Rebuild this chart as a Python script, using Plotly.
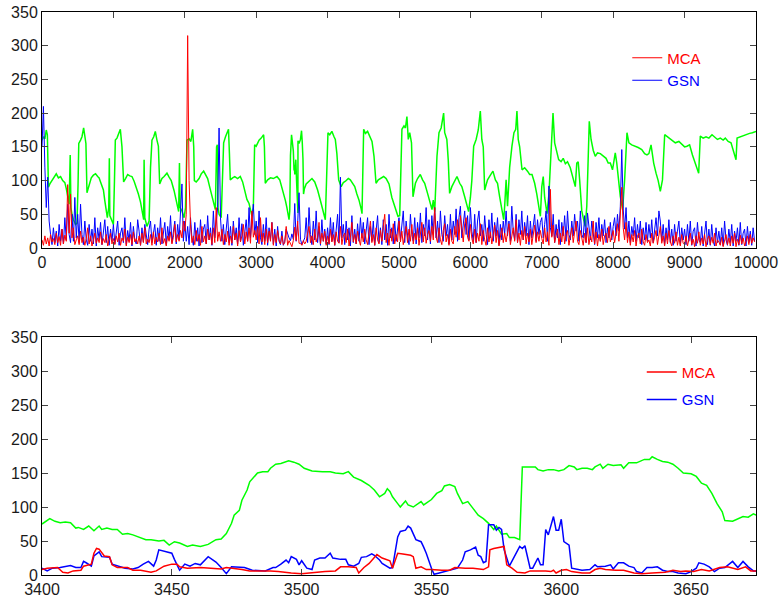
import plotly.graph_objects as go
from plotly.subplots import make_subplots

# ---------------- Top panel data (sample index 0..10000) ----------------
green_top_x = [0,20,40,60,75,90,110,140,170,200,230,260,290,320,340,360,380,395,405,420,440,470,490,505,515,540,560,583,600,615,630,660,690,720,750,780,800,830,860,880,900,915,935,943,950,975,1000,1015,1027,1050,1075,1097,1120,1143,1170,1200,1230,1260,1290,1320,1350,1380,1410,1424,1430,1440,1470,1500,1520,1540,1565,1587,1610,1630,1648,1680,1710,1750,1780,1810,1850,1880,1914,1925,1935,1960,1990,2010,2031,2060,2085,2110,2125,2134,2160,2200,2230,2264,2290,2320,2350,2380,2410,2428,2445,2455,2465,2480,2510,2530,2544,2570,2590,2612,2625,2637,2670,2700,2740,2777,2810,2840,2870,2900,2941,2960,2978,3000,3040,3070,3104,3115,3127,3160,3200,3240,3291,3330,3360,3385,3410,3430,3440,3460,3470,3480,3495,3510,3520,3530,3535,3540,3555,3565,3575,3584,3585,3600,3620,3635,3645,3655,3663,3675,3700,3740,3781,3820,3860,3900,3940,3968,3985,4005,4030,4060,4090,4108,4130,4155,4190,4220,4250,4290,4318,4350,4380,4410,4440,4470,4482,4505,4530,4560,4590,4622,4650,4678,4710,4750,4785,4820,4860,4900,4930,4960,4985,5010,5041,5070,5090,5111,5130,5150,5175,5196,5230,5260,5298,5330,5360,5400,5430,5462,5480,5500,5532,5560,5590,5625,5640,5670,5690,5709,5740,5770,5812,5850,5880,5920,5950,5975,6000,6020,6046,6080,6110,6139,6160,6180,6200,6240,6280,6316,6350,6380,6410,6440,6466,6480,6500,6520,6550,6582,6610,6635,6652,6670,6690,6723,6760,6800,6830,6863,6900,6930,6956,6980,7000,7020,7040,7073,7100,7125,7157,7180,7210,7236,7270,7300,7330,7360,7399,7430,7469,7490,7510,7530,7560,7586,7609,7630,7665,7690,7720,7749,7780,7820,7860,7900,7930,7960,7990,8029,8050,8075,8100,8132,8160,8193,8220,8260,8310,8350,8400,8440,8473,8500,8530,8567,8600,8630,8660,8690,8721,8760,8800,8840,8870,8920,8960,9000,9033,9070,9110,9150,9173,9197,9220,9260,9300,9340,9384,9420,9460,9500,9540,9570,9610,9650,9680,9720,9735,9780,9820,9874,9910,9950,10000]
green_top_y = [160,165,162,175,168,90,95,100,103,110,104,106,100,97,88,78,65,138,60,50,42,35,37,95,155,160,165,178,160,155,82,95,104,108,110,106,104,95,86,70,55,45,60,133,48,40,35,100,160,163,170,176,150,98,103,109,107,106,99,90,80,68,52,42,131,45,32,40,120,160,165,173,160,151,95,103,106,111,105,100,85,70,54,126,60,55,45,60,160,162,158,176,150,100,98,103,110,114,108,103,90,76,62,57,150,153,60,50,45,100,156,165,171,176,140,101,104,106,103,106,98,86,72,66,47,60,153,151,160,163,168,150,96,101,104,103,106,101,90,81,70,60,52,42,55,137,168,152,144,115,123,109,131,100,70,52,159,155,161,174,157,132,80,88,95,99,103,98,86,70,55,42,100,171,168,173,165,161,140,101,91,97,99,103,101,95,91,80,71,58,51,176,170,173,165,158,136,96,101,104,106,103,95,75,66,55,47,48,176,181,178,195,161,171,156,76,96,103,109,101,96,81,70,57,71,54,136,171,178,200,171,161,130,81,91,98,106,96,91,76,65,54,75,100,151,161,175,203,161,150,86,101,108,114,101,96,76,58,42,62,101,62,120,151,171,176,203,161,150,116,119,114,109,109,96,80,62,47,91,106,75,51,80,131,200,156,140,131,128,133,125,128,119,105,91,126,128,101,55,42,32,62,188,161,145,136,141,140,136,133,126,126,116,141,126,100,76,57,101,171,156,153,151,149,146,140,138,140,153,126,111,100,84,101,168,165,161,158,156,158,154,150,151,153,138,125,121,111,166,163,165,163,168,164,161,163,160,163,158,156,146,131,163,165,166,168,170,171,173]

mca_top = [12,4,18,6,15,3,20,9,14,5,22,8,17,4,28,6,19,10,94,22,80,15,30,5,12,
           18,5,25,8,16,4,14,30,6,18,3,12,22,7,15,8,24,5,14,8,20,3,11,22,6,
           14,5,18,9,22,4,15,10,28,3,16,8,20,5,24,9,14,6,18,4,22,8,30,6,13,
           8,20,4,24,6,16,9,22,5,30,7,14,3,18,10,24,6,16,35,9,20,10,26,15,40,
           25,50,315,100,35,8,18,5,26,10,20,4,32,9,18,6,28,12,22,5,30,8,60,10,24,
           10,28,5,20,9,25,4,18,7,32,12,22,3,26,9,18,35,6,24,10,30,7,55,16,26,
           12,32,6,45,9,22,5,28,8,25,10,38,4,20,8,26,12,6,18,5,8,32,4,11,6,
           2,11,31,11,40,7,7,4,11,6,10,22,32,8,18,5,28,9,16,38,6,22,10,25,4,
           18,6,28,9,20,4,24,10,7,32,5,18,22,8,28,3,16,38,9,20,6,25,12,4,22,
           9,28,12,5,24,40,8,20,4,30,12,6,26,10,32,50,8,22,4,28,10,36,6,20,9,
           40,9,25,5,20,32,8,28,10,35,6,22,12,30,4,24,38,9,30,7,20,26,10,32,12,
           60,16,8,30,12,5,26,36,9,20,4,28,10,6,32,16,42,12,48,26,9,36,45,16,10,
           35,14,6,28,8,22,10,36,5,26,12,4,30,9,24,6,20,34,8,26,3,18,30,8,22,
           9,26,36,5,20,30,10,42,8,22,4,26,12,32,6,22,9,28,5,18,34,8,24,10,26,
           14,6,30,9,24,4,87,16,34,8,18,28,5,22,9,32,6,20,26,4,18,30,8,22,40,
           10,5,26,14,4,22,8,30,5,18,9,40,6,24,3,20,10,28,5,18,22,8,32,9,20,
           26,8,22,36,10,48,90,30,12,38,8,24,4,20,9,26,3,18,22,6,28,9,4,20,8,
           12,3,22,7,16,26,5,20,32,7,18,3,22,6,26,9,3,18,7,24,4,16,3,20,7,
           5,18,3,14,22,5,13,2,18,7,24,4,15,6,20,2,13,18,5,16,7,22,3,12,9,
           4,16,2,13,20,5,15,3,18,7,22,2,13,5,19,6,15,3,12,18,5,20,7,15,9]

gsn_top = [150,210,120,60,105,40,20,5,30,8,25,3,35,10,28,6,45,12,65,20,8,50,10,75,15,
           50,8,65,20,5,40,12,4,35,10,28,6,45,3,30,12,38,5,25,42,8,32,4,28,10,
           35,6,28,40,4,22,30,8,45,5,26,10,38,3,32,12,6,42,25,4,30,9,35,15,5,
           28,40,8,22,35,4,30,10,45,6,26,38,5,32,12,48,8,28,40,6,35,12,50,95,10,
           40,10,32,5,45,15,4,38,10,30,3,42,8,28,35,6,48,12,30,4,55,15,40,60,178,
           45,10,35,5,28,50,8,32,4,40,12,30,6,45,10,36,4,28,42,10,60,15,38,65,20,
           40,8,55,15,5,35,10,45,4,30,12,38,6,28,3,32,10,5,25,4,10,28,20,15,11,
           21,13,66,10,35,82,13,5,10,15,45,8,60,20,5,40,12,55,8,32,4,42,10,28,6,
           30,5,45,10,38,4,28,50,8,105,15,35,5,40,12,30,3,48,8,28,6,36,10,45,15,
           38,6,28,45,5,32,10,40,4,26,48,8,30,5,42,12,35,4,50,15,30,6,40,10,28,
           45,12,35,55,8,40,18,5,50,20,10,45,6,38,15,52,8,35,18,60,12,42,6,48,20,
           60,15,40,8,55,20,10,48,18,35,6,50,12,40,20,58,10,45,62,15,38,55,20,48,12,
           60,25,10,50,8,40,55,18,35,10,48,20,5,42,15,52,10,38,18,45,5,35,12,40,20,
           55,18,40,10,62,25,12,50,8,42,20,55,12,38,18,48,5,40,15,35,50,10,42,20,38,
           45,15,35,55,10,92,30,18,50,8,35,15,42,5,38,18,48,10,55,20,12,40,18,50,25,
           40,10,55,20,15,48,8,52,25,12,40,18,5,38,15,45,10,35,18,42,8,30,15,38,12,
           32,45,18,50,25,62,146,58,28,60,15,40,8,32,18,45,10,35,15,40,5,30,12,38,10,
           35,15,42,8,30,45,18,55,40,10,35,5,30,12,42,8,28,4,35,10,25,40,5,30,12,
           28,5,35,10,40,4,25,30,3,38,12,8,32,3,26,40,5,28,4,35,10,3,30,8,25,
           5,30,3,40,12,4,28,8,35,3,25,10,30,4,38,5,22,28,3,32,8,25,4,30,10]
top_step = 20
mca_top_x = list(range(0, top_step * len(mca_top), top_step))
gsn_top_x = list(range(0, top_step * len(gsn_top), top_step))

# ---------------- Bottom panel data (zoom 3400..3675) ----------------
green_bot_x = [3400,3402,3403,3405,3407,3409,3411,3413,3414,3416,3418,3420,3422,3423,3425,3427,3429,3431,3433,3435,3438,3440,3442,3445,3447,3449,3451,3453,3456,3458,3461,3464,3467,3468,3469,3471,3473,3474,3476,3477,3479,3480,3482,3483,3485,3487,3488,3490,3492,3495,3497,3499,3501,3504,3508,3511,3513,3516,3518,3520,3523,3525,3526,3528,3530,3532,3533,3534,3535,3537,3538,3540,3541,3543,3546,3547,3550,3552,3554,3555,3557,3559,3560,3562,3564,3566,3568,3570,3572,3574,3575,3577,3579,3580,3582,3584,3585,3587,3590,3591,3593,3595,3597,3599,3601,3603,3605,3606,3608,3610,3612,3613,3615,3616,3618,3620,3623,3624,3626,3629,3631,3632,3634,3635,3637,3639,3641,3643,3645,3647,3650,3652,3654,3656,3658,3660,3662,3663,3666,3668,3670,3672,3674,3675]
green_bot_y = [75,80,83,79,77,78,77,69,70,67,72,65,72,67,69,67,67,60,61,59,55,52,52,50,51,44,49,47,42,44,42,45,52,53,53,61,76,88,95,110,125,137,145,150,152,152,157,163,164,168,166,163,157,153,152,152,150,149,152,144,139,134,132,125,115,120,127,123,115,105,100,109,103,100,108,103,111,120,124,131,133,130,120,105,108,98,88,83,76,67,72,60,61,55,55,52,159,159,159,155,153,155,155,153,155,161,159,155,157,157,155,159,163,157,163,161,162,157,165,165,168,170,170,174,170,167,166,163,157,150,149,145,135,132,120,105,93,80,79,83,86,85,90,88]

mca_bot_x = [3400,3402,3406,3408,3410,3412,3415,3416,3419,3420,3421,3422,3424,3426,3427,3429,3433,3435,3438,3442,3444,3447,3450,3452,3453,3456,3461,3466,3469,3471,3474,3477,3480,3484,3486,3488,3491,3493,3496,3500,3505,3509,3513,3515,3518,3521,3522,3524,3526,3528,3529,3531,3534,3535,3537,3539,3542,3543,3544,3546,3548,3550,3552,3554,3557,3559,3563,3566,3570,3572,3572.5,3574,3578,3579,3581,3583,3586,3588,3594,3596,3597,3598,3600,3602,3604,3608,3611,3613,3615,3617,3621,3624,3628,3631,3635,3640,3642,3643,3646,3648,3651,3654,3657,3659,3661,3664,3666,3668,3671,3673,3675]
mca_bot_y = [8,10,11,4,3,6,7,13,16,32,39,38,28,27,15,11,11,7,7,4,6,13,16,16,12,10,11,10,9,11,10,8,6,6,7,6,5,4,3,2,4,5,6,12,12,11,3,11,17,25,30,25,21,10,32,31,29,27,10,12,8,8,7,7,7,11,10,10,8,12,37,39,42,15,10,4,3,6,6,5,7,3,7,8,5,3,3,8,10,8,7,7,3,2,3,4,6,7,5,6,5,8,6,8,11,12,10,8,12,6,6]

gsn_bot_x = [3400,3402,3404,3407,3411,3413,3415,3416,3417,3419,3420,3422,3423,3426,3427,3430,3432,3435,3437,3439,3441,3443,3444,3445,3447,3450,3451,3453,3455,3457,3459,3461,3464,3466,3467,3469,3471,3473,3476,3478,3481,3484,3486,3489,3490,3492,3494,3495,3496,3498,3499,3500,3502,3504,3505,3507,3509,3511,3512,3515,3517,3518,3520,3522,3523,3525,3527,3528,3530,3531,3533,3534,3535,3537,3538,3540,3541,3542,3544,3546,3547,3548,3550,3551,3553,3555,3557,3559,3560,3562,3563,3565,3567,3568,3569,3570,3571,3572,3574,3575,3576,3577,3578,3580,3582,3584,3585,3586,3588,3589,3591,3592,3593,3594,3595,3597,3598,3599,3600,3601,3603,3604,3608,3611,3613,3614,3617,3619,3620,3622,3624,3626,3628,3629,3631,3633,3635,3637,3639,3641,3643,3645,3648,3650,3652,3653,3655,3657,3659,3661,3663,3666,3668,3670,3672,3674,3675]
gsn_bot_y = [10,6,10,11,14,11,11,20,18,13,28,34,27,26,16,12,10,9,11,16,20,13,22,37,35,32,23,7,16,13,17,15,27,22,19,11,2,12,12,11,7,6,6,11,11,16,22,18,27,23,15,21,10,8,22,25,25,32,25,23,23,15,13,17,26,27,31,29,22,17,13,10,11,56,64,66,72,69,52,49,41,32,10,1,3,5,7,10,10,22,34,37,41,29,27,18,20,74,74,66,70,67,37,13,27,42,39,43,10,10,25,15,15,67,59,86,66,66,82,49,44,10,7,8,15,12,13,15,9,18,18,13,11,5,3,11,11,12,7,5,5,3,2,5,10,18,16,12,5,10,11,20,11,20,12,6,6]

top_xticks = [0,1000,2000,3000,4000,5000,6000,7000,8000,9000,10000]
bot_xticks = [3400,3450,3500,3550,3600,3650]
yticks = [0,50,100,150,200,250,300,350]

# ---------------- Figure ----------------
GREEN = "#00ff00"
RED = "#ff0000"
BLUE = "#0000ff"
FONT = "Liberation Sans, Arial, Helvetica, sans-serif"

fig = make_subplots(rows=2, cols=1, vertical_spacing=0.158)

fig.add_trace(go.Scatter(x=green_top_x, y=green_top_y, mode="lines",
                         line=dict(color=GREEN, width=1.5), showlegend=False,
                         name="green"), row=1, col=1)
fig.add_trace(go.Scatter(x=gsn_top_x, y=gsn_top, mode="lines",
                         line=dict(color=BLUE, width=1.0),
                         name="<span style='color:#0000ff'>GSN</span>",
                         legend="legend", legendgroup="g1", legendrank=2), row=1, col=1)
fig.add_trace(go.Scatter(x=mca_top_x, y=mca_top, mode="lines",
                         line=dict(color=RED, width=1.0),
                         name="<span style='color:#ff0000'>MCA</span>",
                         legend="legend", legendgroup="m1", legendrank=1), row=1, col=1)

fig.add_trace(go.Scatter(x=green_bot_x, y=green_bot_y, mode="lines",
                         line=dict(color=GREEN, width=1.5), showlegend=False,
                         name="green"), row=2, col=1)
fig.add_trace(go.Scatter(x=gsn_bot_x, y=gsn_bot_y, mode="lines",
                         line=dict(color=BLUE, width=1.5),
                         name="<span style='color:#0000ff'>GSN</span>",
                         legend="legend2", legendgroup="g2", legendrank=2), row=2, col=1)
fig.add_trace(go.Scatter(x=mca_bot_x, y=mca_bot_y, mode="lines",
                         line=dict(color=RED, width=1.5),
                         name="<span style='color:#ff0000'>MCA</span>",
                         legend="legend2", legendgroup="m2", legendrank=1), row=2, col=1)

axis_common = dict(showline=True, linecolor="black", linewidth=1, mirror="ticks",
                   ticks="inside", ticklen=6, tickcolor="#444444", tickwidth=1,
                   showgrid=False, zeroline=False, automargin=False,
                   ticklabeloverflow="allow",
                   tickfont=dict(family=FONT, size=16, color="#1a1a1a"))

fig.update_xaxes(range=[0, 10000], tickvals=top_xticks,
                 ticktext=[str(v) for v in top_xticks], **axis_common, row=1, col=1)
fig.update_xaxes(range=[3400, 3675], tickvals=bot_xticks,
                 ticktext=[str(v) for v in bot_xticks], **axis_common, row=2, col=1)
fig.update_yaxes(range=[0, 350], tickvals=yticks,
                 ticktext=[str(v) for v in yticks], **axis_common, row=1, col=1)
fig.update_yaxes(range=[0, 350], tickvals=yticks,
                 ticktext=[str(v) for v in yticks], **axis_common, row=2, col=1)

fig.update_layout(
    width=779, height=603,
    margin=dict(l=42, r=23, t=12, b=28),
    paper_bgcolor="white", plot_bgcolor="white",
    font=dict(family=FONT, size=16, color="#1a1a1a"),
    legend=dict(x=0.8197, y=0.9476, xanchor="left", yanchor="top",
                bgcolor="rgba(0,0,0,0)", borderwidth=0,
                traceorder="grouped", tracegroupgap=0,
                font=dict(family=FONT, size=15)),
    legend2=dict(x=0.84, y=0.3893, xanchor="left", yanchor="top",
                 bgcolor="rgba(0,0,0,0)", borderwidth=0,
                 traceorder="grouped", tracegroupgap=5,
                 font=dict(family=FONT, size=15)),
)
fig.update_xaxes(domain=[0, 1])
fig.layout.yaxis.domain = [0.5808, 1.0]
fig.layout.yaxis2.domain = [0.0, 0.4226]

# remove the default 8px page margin so the figure sits at the window's top-left corner
fig.write_html("out.html",
               config={"displayModeBar": False},
               post_script="document.body.style.margin='0';document.body.style.overflow='hidden';")
